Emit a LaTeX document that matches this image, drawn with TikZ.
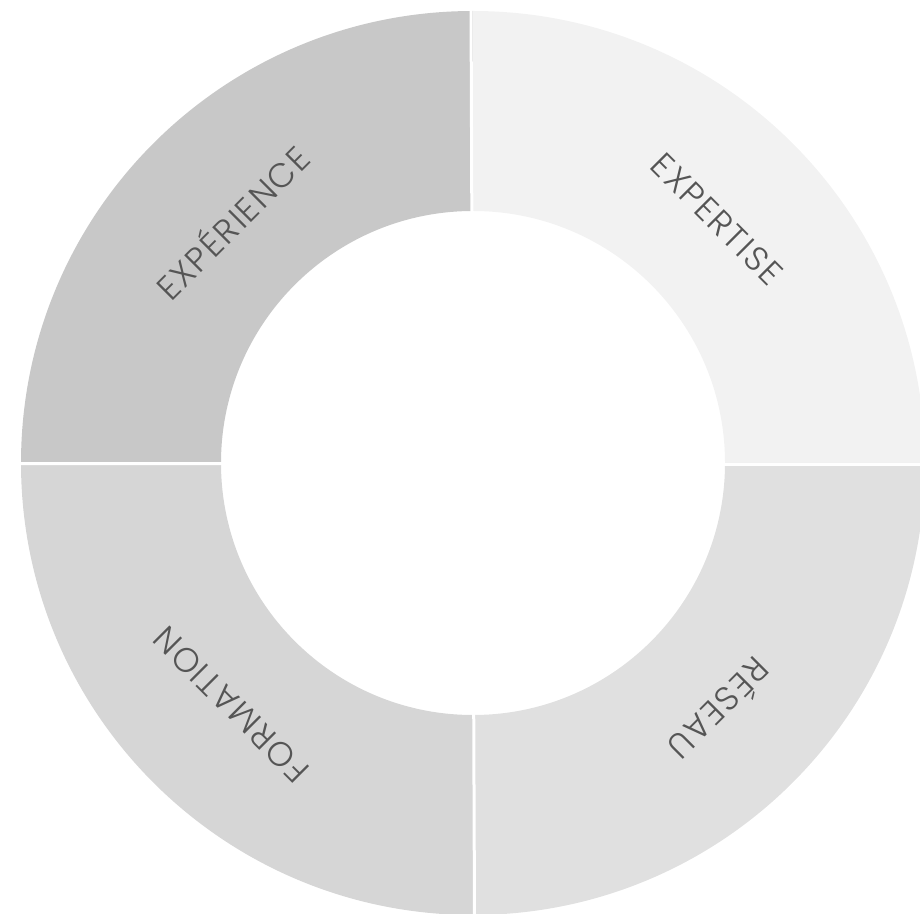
\documentclass[tikz,border=0pt]{standalone}
\usepackage{fontspec}
\setmainfont{Poppins}[UprightFont={* Light}]
\newfontfamily\labelfont{Poppins}[UprightFont={* Light}, LetterSpace=5]
\usetikzlibrary{calc}
\definecolor{segA}{HTML}{C8C8C8}
\definecolor{segB}{HTML}{F2F2F2}
\definecolor{segC}{HTML}{E0E0E0}
\definecolor{segD}{HTML}{D6D6D6}
\definecolor{txt}{HTML}{555555}
\tikzset{
  seglabel/.style={text=txt, font=\labelfont\fontsize{34}{38}\selectfont, inner sep=0pt},
  gap/.style={white, line width=3pt}
}
\newcommand{\ringseg}[3]{%
  \fill[#1] ($(C)+(#2:452)$) arc[start angle=#2, end angle=#3, radius=452]
    -- ($(C)+(#3:252)$) arc[start angle=#3, end angle=#2, radius=252] -- cycle;}
\begin{document}
\begin{tikzpicture}[x=1pt,y=1pt]
\useasboundingbox (0,0) rectangle (920,913);
\coordinate (C) at (473,450);
\ringseg{segA}{90}{180}
\ringseg{segB}{0}{90}
\ringseg{segC}{-90}{0}
\ringseg{segD}{180}{270}
\coordinate (gT) at (471,915);
\coordinate (gB) at (474.5,-5);
\coordinate (gL) at (-5,449.5);
\coordinate (gR) at (925,448.5);
\draw[gap] (gT) -- (gB);
\draw[gap] (gL) -- (gR);
\node[seglabel, rotate=45] (exp) at ($(C)+(135:342)$) {EXPÉRIENCE};
\node[seglabel, rotate=-45] (ext) at ($(C)+(45:345)$) {EXPERTISE};
\node[seglabel, rotate=-135] (res) at ($(C)+(-45:350)$) {RÉSEAU};
\node[seglabel, rotate=135] (for) at ($(C)+(-135:342)$) {FORMATION};
\end{tikzpicture}
\end{document}
